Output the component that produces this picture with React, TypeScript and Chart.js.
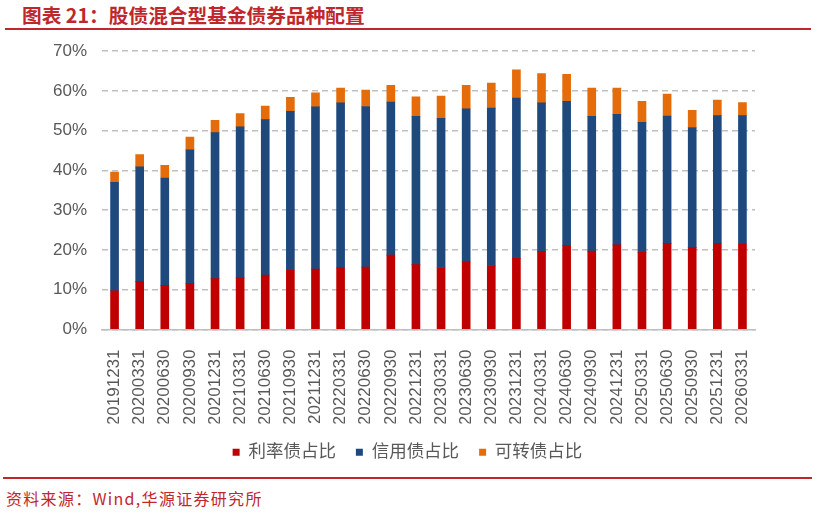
import React, { useEffect, useRef } from "react";
import { Chart, registerables } from "chart.js";

Chart.register(...registerables);

const categories = [
  "20191231", "20200331", "20200630", "20200930", "20201231", "20210331",
  "20210630", "20210930", "20211231", "20220331", "20220630", "20220930",
  "20221231", "20230331", "20230630", "20230930", "20231231", "20240331",
  "20240630", "20240930", "20241231", "20250331", "20250630", "20250930",
  "20251231", "20260331",
];

// 利率债占比 (%)
const rateBond = [
  9.7, 12.1, 11.1, 11.6, 12.8, 13.0, 13.7, 14.9, 15.2, 15.5, 15.7, 18.7,
  16.3, 15.6, 17.0, 16.1, 17.9, 19.6, 21.1, 19.7, 21.3, 19.4, 21.6, 20.6,
  21.7, 21.5,
];

// 信用债占比 (%)
const creditBond = [
  27.3, 28.8, 27.0, 33.6, 36.7, 38.0, 39.1, 40.0, 40.8, 41.5, 40.4, 38.5,
  37.3, 37.5, 38.5, 39.6, 40.3, 37.4, 36.3, 33.9, 32.8, 32.7, 32.1, 30.2,
  32.1, 32.3,
];

// 可转债占比 (%)
const convBond = [
  2.6, 3.1, 3.2, 3.2, 3.1, 3.3, 3.4, 3.5, 3.5, 3.7, 4.1, 4.2,
  4.9, 5.6, 5.9, 6.3, 7.1, 7.4, 6.8, 7.1, 6.6, 5.3, 5.5, 4.3,
  3.9, 3.3,
];

const seriesNames = ["利率债占比", "信用债占比", "可转债占比"];
const yMin = 0;
const yMax = 70;
const yStep = 10;

const FONT = "'Liberation Sans', Arial, 'Noto Sans CJK SC', sans-serif";
const GRAY = "#595959";
const RED = "#C0272D";

export default function App() {
  const ref = useRef<HTMLCanvasElement>(null);

  useEffect(() => {
    if (!ref.current) return;
    const chart = new Chart(ref.current, {
      type: "bar",
      data: {
        labels: categories,
        datasets: [
          { label: seriesNames[0], data: rateBond, backgroundColor: "#C00000", barThickness: 8 },
          { label: seriesNames[1], data: creditBond, backgroundColor: "#1F497D", barThickness: 8 },
          { label: seriesNames[2], data: convBond, backgroundColor: "#E46C0A", barThickness: 8 },
        ],
      },
      options: {
        animation: false,
        responsive: false,
        maintainAspectRatio: false,
        layout: { padding: { left: 0, right: 0, top: 16, bottom: 0 } },
        plugins: {
          legend: {
            position: "bottom",
            labels: {
              boxWidth: 7,
              boxHeight: 7,
              padding: 20,
              color: GRAY,
              font: { size: 17.5, family: FONT },
            },
          },
          tooltip: { enabled: false },
        },
        scales: {
          x: {
            stacked: true,
            grid: { display: false },
            border: { display: true, color: "#bfbfbf", width: 1.5 },
            ticks: {
              color: GRAY,
              font: { size: 17, family: FONT },
              minRotation: 90,
              maxRotation: 90,
              autoSkip: false,
              padding: 12,
            },
            afterFit: (s: any) => {
              s.height = 94;
            },
          },
          y: {
            stacked: true,
            min: yMin,
            max: yMax,
            ticks: {
              stepSize: yStep,
              color: GRAY,
              font: { size: 17, family: FONT },
              padding: 15,
              callback: (v: any) => v + "%",
            },
            grid: { color: "#c0c0c0", lineWidth: 1.5, drawTicks: false },
            border: { display: false, dash: [6, 4] },
            afterFit: (s: any) => {
              s.width = 102;
            },
          },
          yRight: {
            position: "right",
            display: true,
            grid: { display: false },
            border: { display: false },
            ticks: { display: false },
            afterFit: (s: any) => {
              s.width = 60;
            },
          },
        },
      },
    });
    return () => chart.destroy();
  }, []);

  return (
    <div
      style={{
        position: "absolute",
        left: 0,
        top: 0,
        width: 815,
        height: 512,
        background: "#fff",
        overflow: "hidden",
      }}
    >
      <div
        style={{
          position: "absolute",
          left: 22,
          top: 3,
          fontFamily: "'Noto Sans CJK SC', sans-serif",
          fontWeight: "bold",
          fontSize: 19.7,
          lineHeight: "24px",
          color: RED,
          whiteSpace: "nowrap",
        }}
      >
        图表 21：股债混合型基金债券品种配置
      </div>
      <div style={{ position: "absolute", left: 5, top: 28, width: 806, height: 2, background: RED }} />
      <canvas
        ref={ref}
        width={815}
        height={445}
        style={{ position: "absolute", left: 0, top: 26, width: 815, height: 445 }}
      />
      <div style={{ position: "absolute", left: 3, top: 477, width: 809, height: 2, background: RED }} />
      <div
        style={{
          position: "absolute",
          left: 6,
          top: 488,
          fontFamily: "'Noto Sans CJK SC', sans-serif",
          fontSize: 16,
          letterSpacing: 1.3,
          lineHeight: "20px",
          color: RED,
          whiteSpace: "nowrap",
        }}
      >
        资料来源：Wind,华源证券研究所
      </div>
    </div>
  );
}
